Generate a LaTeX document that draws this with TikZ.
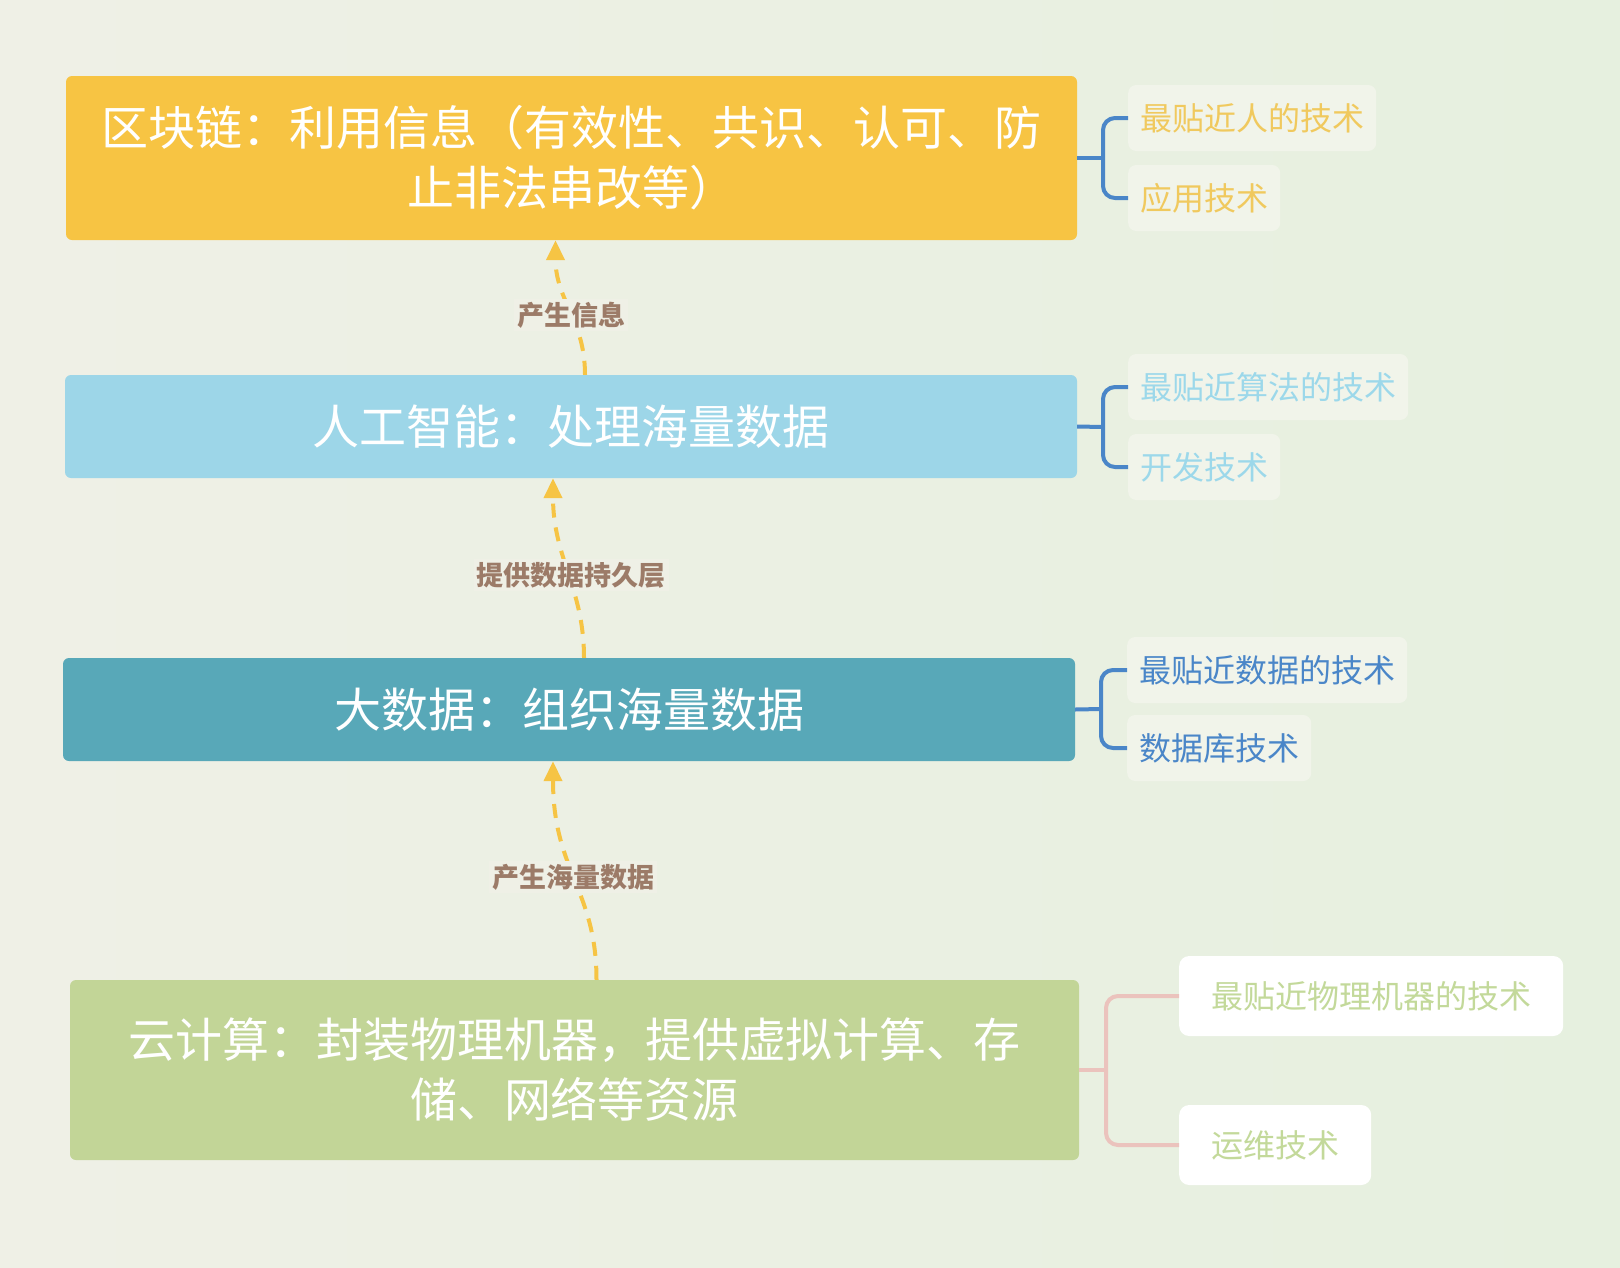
\documentclass[tikz,border=0pt]{standalone}
\usepackage{fontspec}
\setmainfont{Noto Sans CJK SC}
\usetikzlibrary{arrows.meta}
\definecolor{bgA}{HTML}{EFF0E6}
\definecolor{bgB}{HTML}{E6F0DF}
\definecolor{cYel}{HTML}{F7C443}
\definecolor{cSky}{HTML}{9DD6E8}
\definecolor{cTeal}{HTML}{58A8B8}
\definecolor{cGrn}{HTML}{C2D597}
\definecolor{cArrow}{HTML}{F6C444}
\definecolor{cLbl}{HTML}{9C7B68}
\definecolor{cBlue}{HTML}{4A86C8}
\definecolor{cPink}{HTML}{EBC3BD}
\definecolor{cTagBg}{HTML}{F1F4EA}
\definecolor{cYelTxt}{HTML}{F0C95E}
\definecolor{cSkyTxt}{HTML}{9CD8EA}
\definecolor{cGrnTxt}{HTML}{C3D99A}
\begin{document}
\begin{tikzpicture}[x=1pt,y=-1pt,
 mainbox/.style={rounded corners=6pt, text=white, align=center, font=\fontsize{47}{60}\selectfont, inner sep=0pt},
 tag/.style={anchor=west, fill=cTagBg, rounded corners=8pt, inner xsep=12pt, inner ysep=0pt, minimum height=66pt, font=\fontsize{32}{36}\selectfont},
 wtag/.style={anchor=west, fill=white, rounded corners=10pt, inner xsep=32pt, inner ysep=0pt, minimum height=80pt, font=\fontsize{32}{36}\selectfont, text=cGrnTxt},
 flow/.style={cArrow, line width=4pt, dash pattern=on 14pt off 10pt, -{Triangle[length=20pt,width=18pt]}},
 flowlbl/.style={fill=bgA, font=\bfseries\fontsize{27}{30}\selectfont, text=cLbl, inner sep=3pt},
 brk/.style={cBlue, line width=4pt, rounded corners=12pt},
]
\shade[left color=bgA, right color=bgB] (0,0) rectangle (1620,1267);
\useasboundingbox (0,0) rectangle (1620,1267);

% main boxes
\node[mainbox, fill=cYel, minimum width=1011pt, minimum height=164pt] (b1) at (571.5,158) {区块链：利用信息（有效性、共识、认可、防\\止非法串改等）};
\node[mainbox, fill=cSky, minimum width=1012pt, minimum height=103pt] (b2) at (571,426.5) {人工智能：处理海量数据};
\node[mainbox, fill=cTeal, minimum width=1012pt, minimum height=103pt] (b3) at (569,709.5) {大数据：组织海量数据};
\node[mainbox, fill=cGrn, minimum width=1009pt, minimum height=180pt] (b4) at (574.5,1070) {云计算：封装物理机器，提供虚拟计算、存\\储、网络等资源};

% tags
\node[tag, text=cYelTxt] (t1a) at (1128,118) {最贴近人的技术};
\node[tag, text=cYelTxt] (t1b) at (1128,198) {应用技术};
\node[tag, text=cSkyTxt] (t2a) at (1128,387) {最贴近算法的技术};
\node[tag, text=cSkyTxt] (t2b) at (1128,467) {开发技术};
\node[tag, text=cBlue] (t3a) at (1127,670) {最贴近数据的技术};
\node[tag, text=cBlue] (t3b) at (1127,748) {数据库技术};
\node[wtag] (t4a) at (1179,996) {最贴近物理机器的技术};
\node[wtag] (t4b) at (1179,1145) {运维技术};

% brackets
\coordinate (j1) at (1103,158);
\coordinate (j2) at (1103,427);
\coordinate (j3) at (1101,709);
\coordinate (j4) at (1106,1070);
\draw[brk] (b1.east) -- (j1);
\draw[brk] (t1a.west) -| (j1) |- (t1b.west);
\draw[brk] (b2.east) -- (j2);
\draw[brk] (t2a.west) -| (j2) |- (t2b.west);
\draw[brk] (b3.east) -- (j3);
\draw[brk] (t3a.west) -| (j3) |- (t3b.west);
\draw[brk, cPink] (b4.east) -- (j4);
\draw[brk, cPink] (t4a.west) -| (j4) |- (t4b.west);

% flow arrows
\draw[flow] ([xshift=14pt]b2.north) .. controls +(0,-55) and +(0,60) .. ([xshift=-16pt]b1.south);
\draw[flow] ([xshift=15pt]b3.north) .. controls +(0,-70) and +(0,80) .. ([xshift=-18pt]b2.south);
\draw[flow] ([xshift=22pt]b4.north) .. controls +(0,-90) and +(0,110) .. ([xshift=-16pt]b3.south);

\node[flowlbl] (l1) at (571,315) {产生信息};
\node[flowlbl] (l2) at (571,575) {提供数据持久层};
\node[flowlbl] (l3) at (573,877) {产生海量数据};
\end{tikzpicture}
\end{document}
